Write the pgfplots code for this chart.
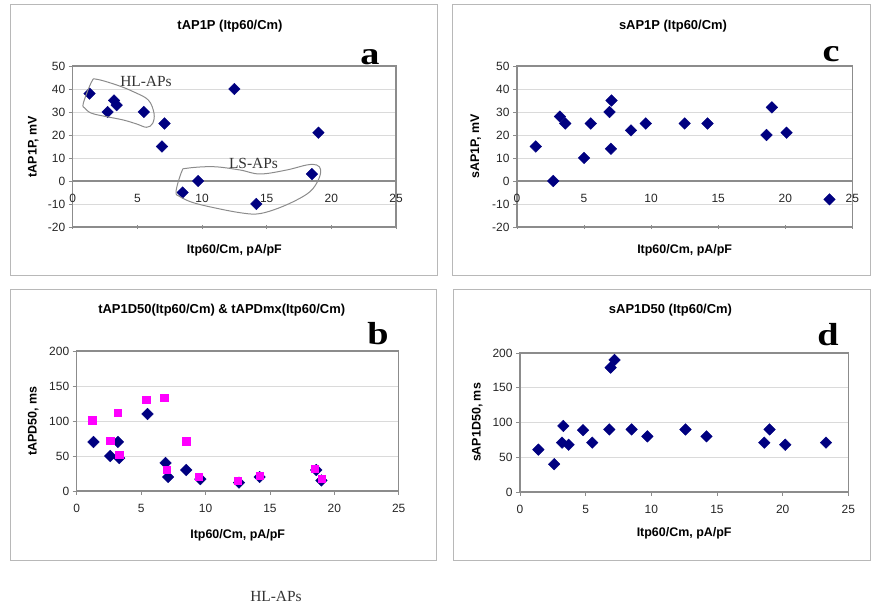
\documentclass[border=0pt]{standalone}
\usepackage{pgfplots}
\pgfplotsset{compat=1.18}
\usepackage{fontspec}
\setmainfont{Liberation Serif}
\setsansfont{Liberation Sans}

\definecolor{navy}{HTML}{000080}
\definecolor{mag}{HTML}{FF00FF}
\definecolor{gridc}{HTML}{DADADA}
\definecolor{boxc}{HTML}{8C8C8C}
\definecolor{framec}{HTML}{B8B8B8}

\pgfplotstableread{
x y
1.3 38
2.7 30
3.2 35
3.4 33
5.5 30
7.1 25
6.9 15
8.5 -5
9.7 0
12.5 40
14.2 -10
18.5 3
19.0 21
}\tA

\pgfplotstableread{
x y
1.4 15
2.7 0
3.2 28
3.6 25
5.0 10
5.5 25
6.9 30
7.05 35
7.0 14
8.5 22
9.6 25
12.5 25
14.2 25
18.6 20
19.0 32
20.1 21
23.3 -8
}\tC

\pgfplotstableread{
x y
1.3 70
2.6 50
3.2 70
3.3 47
5.5 110
6.9 40
7.1 20
8.5 30
9.6 17
12.6 12
14.2 20
18.6 30
19.0 15
}\tBn

\pgfplotstableread{
x y
1.2 101
2.6 72
3.2 112
3.3 52
5.4 130
6.8 133
7.0 30
8.5 71
9.5 20
12.5 15
14.2 22
18.5 32
19.0 17
}\tBm

\pgfplotstableread{
x y
1.4 61
2.6 40
3.2 71
3.7 68
3.3 95
4.8 89
5.5 71
6.8 90
6.9 179
7.2 190
8.5 90
9.7 80
12.6 90
14.2 80
18.6 71
19.0 90
20.2 68
23.3 71
}\tD

\pgfplotsset{
 ex/.style={scale only axis, xmin=0, xmax=25, anchor=south west,
  axis line style={boxc, line width=1.1bp},
  tick style={boxc, line width=0.8bp},
  major tick length=4bp,
  tick align=outside,
  ticklabel style={font=\fontsize{12}{13}\selectfont\sffamily, text=black!85},
  /pgf/number format/assume math mode=true,
  label style={font=\fontsize{12.5}{14}\selectfont\sffamily\bfseries},
 },
 boxax/.style={ex, ymajorgrids, grid style={gridc, line width=0.8bp}, ytick pos=left},
 midax/.style={ex, axis x line=middle, axis y line=none, x axis line style={-, boxc, line width=1.1bp},
  xtick={0,5,...,25}, ytick=\empty, hide obscured x ticks=false, xtick pos=left,
  xticklabel style={yshift=-8bp}, clip=false},
 dia/.style={only marks, mark=square*, mark size=4.1bp, mark options={rotate=45, fill=navy, draw=navy}},
 sq/.style={only marks, mark=square*, mark size=3.6bp, mark options={fill=mag, draw=mag}},
}
\tikzset{
 ttl/.style={font=\fontsize{13}{14}\selectfont\sffamily\bfseries},
 lettr/.style={font=\fontsize{32}{34}\selectfont\rmfamily\bfseries, anchor=base},
 ann/.style={font=\fontsize{15.5}{17}\selectfont\rmfamily, text=black!80},
}

\begin{document}
\begin{tikzpicture}[x=1bp,y=1bp]
\useasboundingbox (0,0) rectangle (871,615);
% frames
\draw[framec, line width=1bp] (10,610) rectangle (437,339);
\draw[framec, line width=1bp] (452,610) rectangle (870.5,339);
\draw[framec, line width=1bp] (10,325) rectangle (436,54);
\draw[framec, line width=1bp] (453,325) rectangle (870.5,54);

% ---------- panel a ----------
\begin{axis}[boxax, at={(72.7bp,388bp)}, width=323.3bp, height=161bp,
  ymin=-20, ymax=50, ytick={-20,-10,...,50}, xtick=\empty,
  xlabel={Itp60/Cm, pA/pF}, xlabel style={at={(axis description cs:0.5,-0.143)}, anchor=center},
  ylabel={tAP1P, mV}, ylabel style={at={(axis description cs:-0.122,0.5)}, anchor=center}]
\end{axis}
\begin{axis}[midax, at={(72.7bp,388bp)}, width=323.3bp, height=161bp, ymin=-20, ymax=50]
\addplot[dia] table {\tA};
\end{axis}
\node[ttl] at (230,589.3) {tAP1P (Itp60/Cm)};
\node[lettr] at (370,550) {\scalebox{1.2}[1]{a}};
\draw[boxc, line width=1bp] plot[smooth cycle, tension=0.6] coordinates {
 (83.3,511.7) (91.7,533.3) (96.7,535.7) (116.7,530) (133.3,523.3) (148.3,515)
 (154,501.7) (152.7,491.7) (146.7,487.7) (136.7,491) (123.3,495) (106.7,498.3) (91.7,501.7) (85,506.7)};
\draw[boxc, line width=1bp] plot[smooth cycle, tension=0.6] coordinates {
 (176,423.3) (181.7,443.3) (186.7,446.7) (213.3,448.3) (240,445) (260,441) (286.7,445)
 (306.7,450) (316.7,450) (320.7,445) (318.3,435) (310,423.3) (293.3,413.3) (273.3,405)
 (256.7,401) (240,402.3) (216.7,406.7) (193.3,412.3) (180,418.3)};
\node[ann] at (146,533.5) {HL-APs};
\node[ann] at (253.5,452) {LS-APs};

% ---------- panel c ----------
\begin{axis}[boxax, at={(517bp,388bp)}, width=335.3bp, height=161bp,
  ymin=-20, ymax=50, ytick={-20,-10,...,50}, xtick=\empty,
  xlabel={Itp60/Cm, pA/pF}, xlabel style={at={(axis description cs:0.5,-0.143)}, anchor=center},
  ylabel={sAP1P, mV}, ylabel style={at={(axis description cs:-0.123,0.5)}, anchor=center}]
\end{axis}
\begin{axis}[midax, at={(517bp,388bp)}, width=335.3bp, height=161bp, ymin=-20, ymax=50]
\addplot[dia] table {\tC};
\end{axis}
\node[ttl] at (673,589.3) {sAP1P (Itp60/Cm)};
\node[lettr] at (831,553) {\scalebox{1.2}[1]{c}};

% ---------- panel b ----------
\begin{axis}[boxax, at={(76.7bp,124bp)}, width=322bp, height=140bp,
  ymin=0, ymax=200, ytick={0,50,...,200}, xtick={0,5,...,25}, xtick pos=bottom,
  xticklabel style={yshift=-6bp},
  xlabel={Itp60/Cm, pA/pF}, xlabel style={at={(axis description cs:0.5,-0.314)}, anchor=center},
  ylabel={tAPD50, ms}, ylabel style={at={(axis description cs:-0.135,0.5)}, anchor=center}, clip=false]
\addplot[dia] table {\tBn};
\addplot[sq] table {\tBm};
\end{axis}
\node[ttl] at (221.7,305) {tAP1D50(Itp60/Cm) \& tAPDmx(Itp60/Cm)};
\node[lettr] at (378,270) {\scalebox{1.2}[1]{b}};

% ---------- panel d ----------
\begin{axis}[boxax, at={(520bp,123bp)}, width=328.3bp, height=139bp,
  ymin=0, ymax=200, ytick={0,50,...,200}, xtick={0,5,...,25}, xtick pos=bottom,
  xticklabel style={yshift=-6bp},
  xlabel={Itp60/Cm, pA/pF}, xlabel style={at={(axis description cs:0.5,-0.295)}, anchor=center},
  ylabel={sAP1D50, ms}, ylabel style={at={(axis description cs:-0.130,0.5)}, anchor=center}, clip=false]
\addplot[dia] table {\tD};
\end{axis}
\node[ttl] at (670.5,305) {sAP1D50 (Itp60/Cm)};
\node[lettr] at (828,269) {\scalebox{1.2}[1]{d}};

\node[ann] at (276,19) {HL-APs};
\end{tikzpicture}
\end{document}
